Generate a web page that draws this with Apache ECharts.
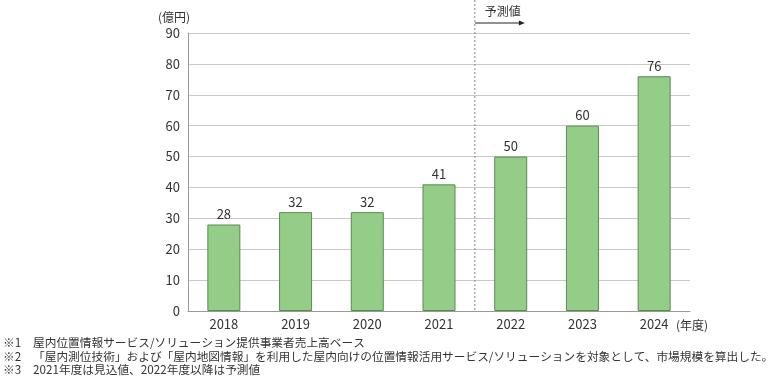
<!DOCTYPE html>
<html>
<head>
<meta charset="utf-8">
<script src="https://cdn.jsdelivr.net/npm/echarts@6/dist/echarts.min.js"></script>
<style>
  html, body { margin: 0; padding: 0; background: #fff; }
  #chart { width: 774px; height: 377px; }
</style>
</head>
<body>
<div id="chart"></div>
<script>
// 年度ごとの市場規模（億円）
const years = ['2018', '2019', '2020', '2021', '2022', '2023', '2024'];
const values = [28, 32, 32, 41, 50, 60, 76];
const forecastFrom = 4; // 2022年度から予測値
const notes = [
  ['※1', '屋内位置情報サービス/ソリューション提供事業者売上高ベース'],
  ['※2', '「屋内測位技術」および「屋内地図情報」を利用した屋内向けの位置情報活用サービス/ソリューションを対象として、市場規模を算出した。'],
  ['※3', '2021年度は見込値、2022年度以降は予測値']
];

const font = '"Noto Sans CJK JP", "Noto Sans", sans-serif';
const myChart = echarts.init(document.getElementById('chart'));

const option = {
  animation: false,
  textStyle: { fontFamily: font },
  grid: { left: 188, right: 84, top: 33, bottom: 66 },
  xAxis: [
    {
      type: 'category',
      data: years,
      name: '(年度)',
      nameLocation: 'end',
      nameGap: -14,
      nameTextStyle: { color: '#333', fontSize: 12, align: 'left', verticalAlign: 'top', padding: [8, 0, 0, 0] },
      axisLine: { lineStyle: { color: '#999' } },
      axisTick: { show: false },
      axisLabel: { color: '#333', fontSize: 13, margin: 7 }
    },
    {
      // 予測値の境界線用（非表示）
      type: 'value', min: 0, max: years.length, show: false
    }
  ],
  yAxis: {
    type: 'value',
    min: 0, max: 90, interval: 10,
    name: '(億円)',
    nameLocation: 'end',
    nameGap: 10,
    nameTextStyle: { color: '#333', fontSize: 12, align: 'right', padding: [0, -2, 0, 0] },
    axisLine: { show: true, lineStyle: { color: '#999' } },
    axisTick: { show: false },
    axisLabel: { color: '#333', fontSize: 13, margin: 8 },
    splitLine: { lineStyle: { color: '#c8c8c8' } }
  },
  series: [
    {
      type: 'bar',
      data: values,
      barWidth: 33,
      itemStyle: { color: '#93cd88', borderColor: '#5a8a50', borderWidth: 1 },
      label: { show: true, position: 'top', color: '#333', fontSize: 13, distance: 4 }
    }
  ]
};
myChart.setOption(option);

// 予測値の区切り線・矢印・脚注
const bx = myChart.convertToPixel({ xAxisIndex: 1 }, forecastFrom);
const y0 = myChart.convertToPixel({ yAxisIndex: 0 }, 0);
const graphics = [
  { type: 'line', shape: { x1: bx, y1: 0, x2: bx, y2: y0 }, style: { stroke: '#888', lineWidth: 1, lineDash: [2, 2] }, z: 10 },
  { type: 'line', shape: { x1: bx, y1: 23, x2: bx + 46, y2: 23 }, style: { stroke: '#222', lineWidth: 1 }, z: 10 },
  { type: 'polygon', shape: { points: [[bx + 44, 20.5], [bx + 50, 23], [bx + 44, 25.5]] }, style: { fill: '#222' }, z: 10 },
  { type: 'text', x: bx + 10, y: 5, style: { text: '予測値', fill: '#333', fontSize: 12, fontFamily: font }, z: 10 }
];
notes.forEach((n, i) => {
  const y = 343 + i * 13.5;
  graphics.push({ type: 'text', x: 3, y: y, style: { text: n[0], fill: '#333', fontSize: 11.7, fontFamily: font, verticalAlign: 'middle' } });
  graphics.push({ type: 'text', x: 33, y: y, style: { text: n[1], fill: '#333', fontSize: 11.7, fontFamily: font, verticalAlign: 'middle' } });
});
myChart.setOption({ graphic: graphics });
</script>
</body>
</html>
